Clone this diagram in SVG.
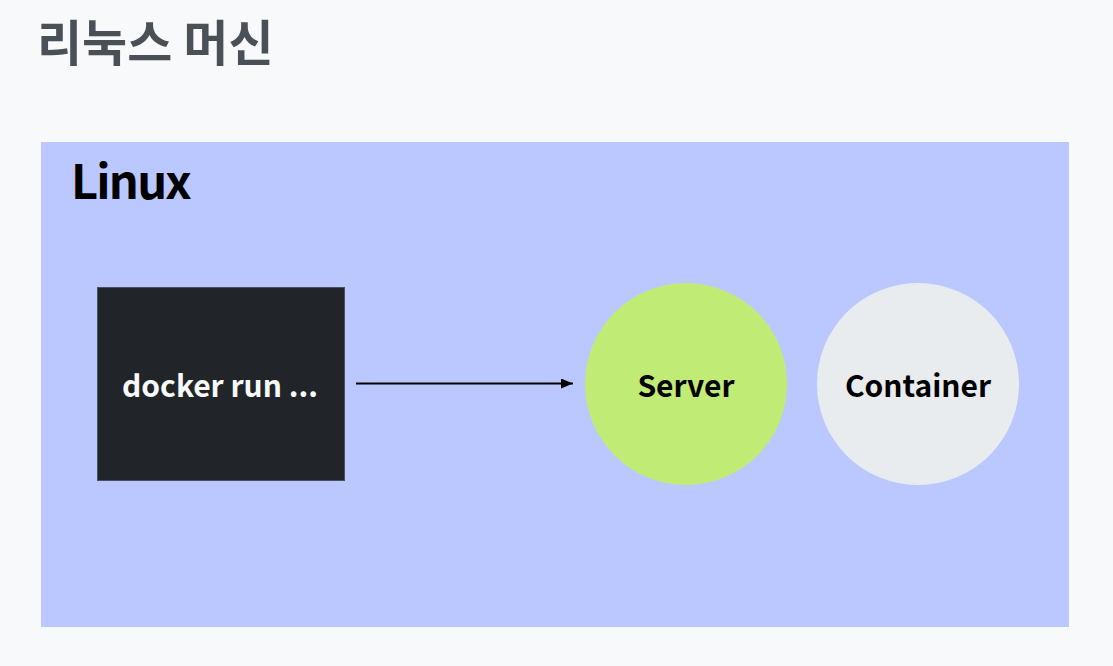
<svg xmlns="http://www.w3.org/2000/svg" width="1113" height="666" viewBox="0 0 1113 666">
<defs>
<style>
.t{font-family:"Noto Sans CJK KR","Noto Sans",sans-serif;font-weight:700}
</style>
<marker id="ah" markerWidth="12" markerHeight="10" refX="12" refY="5" orient="auto" markerUnits="userSpaceOnUse">
<path d="M0,0 L12,5 L0,10 Z" fill="#000"/>
</marker>
</defs>
<rect width="1113" height="666" fill="#f8f9fa"/>
<text class="t" x="37" y="61" font-size="49" fill="#495057">리눅스 머신</text>
<g id="linux">
<rect x="41" y="142" width="1028" height="485" fill="#bac8ff"/>
<text class="t" x="71" y="199" font-size="47" letter-spacing="-1.8" fill="#000">Linux</text>
</g>
<g id="connectors">
<line x1="356" y1="383.5" x2="573" y2="383.5" stroke="#000" stroke-width="2" marker-end="url(#ah)"/>
</g>
<g id="docker">
<rect x="97.5" y="287.5" width="247" height="193" fill="#212529" stroke="#495057" stroke-width="1"/>
<text class="t" x="220" y="397" font-size="30" fill="#f8f9fa" text-anchor="middle">docker run ...</text>
</g>
<g id="server">
<circle cx="686" cy="384" r="101" fill="#c0eb75"/>
<text class="t" x="686" y="397" font-size="30" fill="#000" text-anchor="middle">Server</text>
</g>
<g id="container">
<circle cx="918" cy="384" r="101" fill="#e9ecef"/>
<text class="t" x="918" y="397" font-size="30" fill="#000" text-anchor="middle">Container</text>
</g>
</svg>
